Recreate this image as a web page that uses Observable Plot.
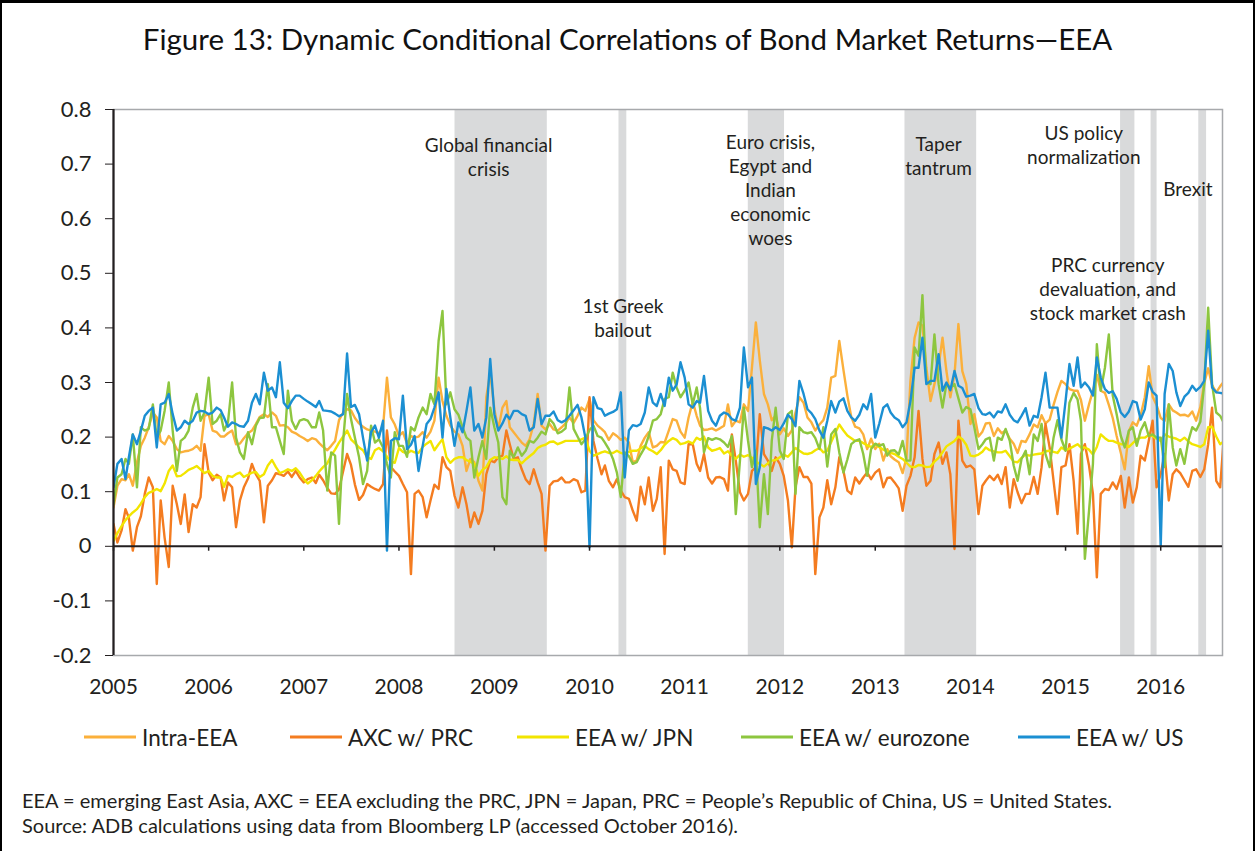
<!DOCTYPE html>
<html>
<head>
<meta charset="utf-8">
<script src="https://cdn.jsdelivr.net/npm/d3@7"></script>
<script src="https://cdn.jsdelivr.net/npm/@observablehq/plot@0.6"></script>
<style>
  body { margin: 0; background: #fff; font-family: Lato, "Open Sans", sans-serif; color: #231f20; }
  #page { position: relative; width: 1255px; height: 851px; overflow: hidden; }
  #title { height: 80px; line-height: 78px; text-align: center; font-size: 29.5px; color: #111; }
  #legend { position: relative; height: 54px; font-size: 22.5px; }
  .item { position: absolute; top: 27px; transform: translateY(-50%); display: flex; align-items: center; white-space: nowrap; }
  .sw { width: 52px; height: 3px; margin-right: 6px; }
  #notes { padding: 24px 0 0 22px; font-size: 20px; line-height: 25px; }
  .bd { position: absolute; background: #000; }
</style>
</head>
<body>
<div id="page">
  <div id="title">Figure 13: Dynamic Conditional Correlations of Bond Market Returns—EEA</div>
  <div id="chart"></div>
  <div id="legend"></div>
  <div id="notes">EEA = emerging East Asia, AXC = EEA excluding the PRC, JPN = Japan, PRC = People’s Republic of China, US = United States.<br>Source: ADB calculations using data from Bloomberg LP (accessed October 2016).</div>
  <div class="bd" style="left:0;top:0;width:1255px;height:3px"></div>
  <div class="bd" style="left:0;top:0;width:2px;height:851px"></div>
  <div class="bd" style="right:0;top:0;width:2px;height:851px"></div>
</div>
<script>
// Semi-monthly observations (1st and 16th of each month), Jan 2005 – Sep 2016
const seriesNames = ["Intra-EEA", "AXC w/ PRC", "EEA w/ JPN", "EEA w/ eurozone", "EEA w/ US"];
const seriesColors = ["#FBB03B", "#F47C20", "#F2E500", "#8DC63F", "#1B8FD2"];

const intraEEA = [
0.071,0.111,0.123,0.121,0.132,0.111,0.154,0.184,0.199,0.218,0.245,0.236,0.193,0.187,0.202,0.193,0.178,0.172,0.174,0.175,0.178,0.184,0.175,0.239,
0.242,0.212,0.209,0.201,0.201,0.207,0.212,0.187,0.188,0.198,0.207,0.212,0.224,0.237,0.242,0.237,0.245,0.239,0.221,0.222,0.218,0.210,0.207,0.202,
0.198,0.193,0.198,0.196,0.189,0.182,0.176,0.184,0.193,0.231,0.245,0.251,0.249,0.235,0.225,0.219,0.214,0.212,0.210,0.207,0.218,0.309,0.236,0.223,
0.202,0.209,0.188,0.202,0.199,0.201,0.209,0.199,0.210,0.230,0.309,0.266,0.239,0.221,0.210,0.205,0.184,0.138,0.160,0.154,0.120,0.102,0.273,0.318,
0.251,0.215,0.254,0.266,0.218,0.209,0.199,0.190,0.184,0.196,0.224,0.279,0.221,0.214,0.224,0.214,0.212,0.218,0.225,0.236,0.226,0.239,0.254,0.248,
0.270,0.231,0.221,0.215,0.209,0.195,0.207,0.202,0.195,0.199,0.190,0.154,0.157,0.184,0.199,0.209,0.181,0.184,0.191,0.190,0.212,0.233,0.230,0.210,
0.199,0.236,0.265,0.239,0.221,0.213,0.214,0.216,0.212,0.216,0.221,0.260,0.220,0.230,0.227,0.260,0.248,0.327,0.410,0.341,0.279,0.260,0.231,0.239,
0.205,0.216,0.202,0.212,0.245,0.273,0.263,0.236,0.227,0.212,0.223,0.231,0.254,0.309,0.312,0.376,0.323,0.276,0.237,0.219,0.216,0.205,0.178,0.197,
0.178,0.188,0.157,0.178,0.165,0.159,0.154,0.134,0.163,0.303,0.382,0.410,0.404,0.327,0.266,0.297,0.330,0.382,0.321,0.273,0.315,0.407,0.321,0.297,
0.224,0.242,0.201,0.210,0.225,0.226,0.202,0.216,0.207,0.212,0.197,0.188,0.171,0.193,0.191,0.205,0.223,0.218,0.240,0.225,0.232,0.259,0.283,0.303,
0.297,0.288,0.285,0.285,0.268,0.230,0.260,0.285,0.314,0.285,0.281,0.259,0.235,0.202,0.171,0.141,0.211,0.227,0.221,0.240,0.273,0.330,0.274,0.259,
0.235,0.230,0.260,0.249,0.245,0.240,0.241,0.238,0.247,0.230,0.255,0.299,0.326,0.295,0.282,0.293,0.303];

const axcPRC = [
0.041,0.007,0.029,0.068,0.052,-0.008,0.035,0.055,0.096,0.126,0.108,-0.069,0.084,0.016,-0.038,0.111,0.077,0.041,0.095,0.026,0.077,0.071,0.090,0.187,
0.135,0.121,0.131,0.126,0.084,0.117,0.108,0.035,0.084,0.108,0.124,0.151,0.132,0.120,0.044,0.111,0.121,0.134,0.132,0.129,0.137,0.127,0.138,0.126,
0.117,0.123,0.126,0.116,0.131,0.121,0.107,0.097,0.096,0.104,0.138,0.169,0.149,0.113,0.085,0.094,0.114,0.109,0.105,0.102,0.114,0.212,0.145,0.137,
0.129,0.114,0.099,-0.051,0.096,0.102,0.090,0.053,0.084,0.113,0.105,0.163,0.145,0.138,0.093,0.071,0.108,0.077,0.035,0.062,0.041,0.065,0.132,0.157,
0.154,0.163,0.166,0.212,0.187,0.160,0.163,0.141,0.123,0.114,0.141,0.117,0.096,-0.008,0.111,0.119,0.120,0.126,0.117,0.117,0.123,0.120,0.099,0.102,
0.273,0.193,0.160,0.132,0.148,0.120,0.108,0.123,0.102,0.090,0.087,0.065,0.047,0.109,0.077,0.126,0.065,0.087,0.145,-0.014,0.157,0.141,0.138,0.117,
0.114,0.187,0.187,0.151,0.138,0.169,0.126,0.115,0.126,0.127,0.123,0.102,0.205,0.157,0.099,0.084,0.096,0.138,0.145,0.242,0.169,0.157,0.138,0.163,
0.151,0.129,0.084,-0.002,0.108,0.145,0.127,0.127,0.115,-0.051,0.053,0.071,0.121,0.077,0.108,0.163,0.138,0.102,0.096,0.126,0.115,0.126,0.135,0.123,
0.135,0.141,0.108,0.125,0.126,0.117,0.106,0.065,0.111,0.129,0.163,0.248,0.160,0.111,0.120,0.169,0.190,0.151,0.172,0.132,-0.005,0.230,0.157,0.145,
0.148,0.141,0.059,0.111,0.120,0.129,0.121,0.131,0.114,0.145,0.071,0.123,0.099,0.079,0.096,0.096,0.127,0.096,0.145,0.224,0.181,0.120,0.059,0.145,
0.148,0.187,0.120,0.023,0.169,0.187,0.148,0.096,-0.057,0.096,0.105,0.103,0.117,0.105,0.129,0.071,0.126,0.080,0.108,0.166,0.157,0.193,0.230,0.108,
0.132,0.169,0.084,0.132,0.141,0.134,0.121,0.109,0.138,0.141,0.127,0.141,0.187,0.254,0.120,0.108,0.212];

const eeaJPN = [
0.010,0.024,0.037,0.048,0.055,0.062,0.068,0.078,0.090,0.098,0.101,0.105,0.101,0.115,0.138,0.148,0.128,0.129,0.134,0.140,0.143,0.147,0.141,0.134,
0.138,0.129,0.126,0.126,0.109,0.129,0.127,0.132,0.135,0.127,0.131,0.135,0.136,0.127,0.132,0.148,0.158,0.145,0.134,0.137,0.141,0.138,0.143,0.135,
0.123,0.115,0.121,0.129,0.137,0.145,0.152,0.166,0.177,0.190,0.201,0.212,0.196,0.189,0.181,0.176,0.163,0.160,0.176,0.180,0.174,0.164,0.155,0.153,
0.180,0.173,0.170,0.175,0.172,0.171,0.182,0.188,0.193,0.176,0.187,0.196,0.163,0.153,0.160,0.163,0.163,0.158,0.155,0.151,0.129,0.140,0.145,0.158,
0.163,0.162,0.160,0.165,0.159,0.158,0.158,0.152,0.159,0.165,0.171,0.180,0.184,0.186,0.191,0.192,0.187,0.190,0.193,0.193,0.193,0.193,0.196,0.199,
0.175,0.166,0.169,0.172,0.174,0.171,0.171,0.175,0.171,0.169,0.173,0.175,0.175,0.179,0.184,0.178,0.174,0.169,0.176,0.186,0.193,0.198,0.195,0.187,
0.189,0.192,0.188,0.199,0.195,0.201,0.181,0.175,0.177,0.180,0.170,0.174,0.166,0.160,0.168,0.164,0.167,0.162,0.155,0.151,0.146,0.152,0.157,0.158,
0.163,0.168,0.164,0.172,0.180,0.175,0.170,0.169,0.171,0.176,0.180,0.172,0.175,0.191,0.208,0.223,0.212,0.203,0.198,0.193,0.193,0.189,0.185,0.182,
0.187,0.182,0.177,0.174,0.171,0.169,0.164,0.160,0.153,0.146,0.145,0.149,0.148,0.145,0.146,0.155,0.162,0.172,0.183,0.188,0.193,0.201,0.196,0.186,
0.166,0.165,0.168,0.173,0.181,0.176,0.174,0.172,0.172,0.175,0.165,0.155,0.154,0.162,0.168,0.166,0.168,0.169,0.170,0.174,0.175,0.173,0.171,0.181,
0.176,0.179,0.183,0.187,0.181,0.181,0.177,0.168,0.182,0.205,0.198,0.193,0.193,0.190,0.187,0.187,0.182,0.189,0.196,0.199,0.199,0.204,0.202,0.197,
0.193,0.205,0.201,0.199,0.197,0.193,0.199,0.192,0.187,0.185,0.182,0.187,0.218,0.219,0.201,0.187,0.193];

const eeaEurozone = [
0.077,0.126,0.132,0.160,0.151,0.205,0.108,0.218,0.212,0.215,0.260,0.199,0.212,0.248,0.300,0.212,0.138,0.193,0.199,0.212,0.254,0.279,0.230,0.245,
0.309,0.224,0.230,0.242,0.212,0.227,0.300,0.199,0.172,0.160,0.209,0.187,0.221,0.235,0.236,0.297,0.218,0.218,0.193,0.169,0.285,0.230,0.215,0.230,
0.233,0.230,0.218,0.218,0.245,0.212,0.102,0.172,0.166,0.041,0.193,0.279,0.233,0.199,0.163,0.114,0.138,0.221,0.190,0.196,0.181,0.151,0.126,0.209,
0.184,0.184,0.164,0.218,0.212,0.236,0.254,0.242,0.279,0.260,0.376,0.431,0.260,0.282,0.251,0.241,0.218,0.199,0.193,0.126,0.163,0.193,0.160,0.254,
0.218,0.190,0.090,0.077,0.175,0.163,0.181,0.166,0.175,0.193,0.190,0.199,0.210,0.205,0.233,0.225,0.207,0.210,0.216,0.291,0.215,0.201,0.187,0.196,
0.213,0.221,0.202,0.199,0.190,0.178,0.160,0.135,0.090,0.172,0.165,0.151,0.154,0.168,0.181,0.202,0.230,0.233,0.242,0.270,0.273,0.318,0.291,0.273,
0.285,0.300,0.260,0.291,0.253,0.172,0.198,0.195,0.198,0.196,0.190,0.182,0.202,0.059,0.157,0.254,0.193,0.145,0.175,0.035,0.132,0.059,0.193,0.254,
0.175,0.160,0.242,0.248,0.096,0.218,0.209,0.207,0.209,0.198,0.178,0.218,0.146,0.205,0.215,0.172,0.135,0.159,0.187,0.193,0.196,0.169,0.129,0.178,
0.188,0.184,0.187,0.166,0.175,0.176,0.168,0.193,0.157,0.157,0.364,0.349,0.460,0.300,0.297,0.388,0.297,0.254,0.297,0.290,0.297,0.271,0.245,0.255,
0.251,0.218,0.178,0.187,0.196,0.199,0.157,0.199,0.195,0.215,0.193,0.148,0.120,0.160,0.175,0.132,0.205,0.193,0.224,0.169,0.145,0.199,0.231,0.196,
0.175,0.263,0.281,0.269,0.230,-0.023,0.065,0.151,0.370,0.285,0.327,0.388,0.276,0.242,0.202,0.181,0.212,0.218,0.184,0.212,0.227,0.202,0.205,0.199,
0.199,0.145,0.260,0.181,0.148,0.178,0.151,0.193,0.218,0.212,0.228,0.297,0.437,0.297,0.245,0.239,0.224];

const eeaUS = [
0.108,0.151,0.160,0.123,0.163,0.205,0.187,0.212,0.239,0.248,0.254,0.181,0.260,0.263,0.279,0.242,0.212,0.218,0.230,0.224,0.230,0.245,0.248,0.247,
0.242,0.245,0.254,0.249,0.236,0.219,0.227,0.224,0.220,0.219,0.230,0.263,0.279,0.260,0.318,0.285,0.291,0.273,0.337,0.263,0.253,0.266,0.276,0.276,
0.270,0.265,0.260,0.255,0.266,0.249,0.248,0.247,0.243,0.238,0.242,0.353,0.255,0.259,0.242,0.199,0.157,0.209,0.221,0.199,0.230,-0.008,0.193,0.198,
0.196,0.276,0.178,0.186,0.202,0.138,0.184,0.224,0.233,0.254,0.282,0.199,0.288,0.236,0.184,0.227,0.209,0.248,0.291,0.212,0.224,0.199,0.236,0.343,
0.242,0.212,0.225,0.241,0.233,0.248,0.248,0.242,0.239,0.212,0.218,0.270,0.224,0.239,0.239,0.247,0.231,0.227,0.231,0.239,0.249,0.259,0.236,0.199,
-0.002,0.273,0.253,0.251,0.239,0.243,0.246,0.251,0.282,0.126,0.212,0.222,0.220,0.224,0.245,0.291,0.263,0.257,0.279,0.257,0.309,0.285,0.296,0.337,
0.309,0.260,0.254,0.266,0.263,0.312,0.248,0.230,0.221,0.239,0.245,0.242,0.233,0.230,0.254,0.364,0.291,0.309,0.114,0.145,0.218,0.216,0.212,0.218,
0.213,0.225,0.241,0.233,0.220,0.303,0.279,0.251,0.244,0.233,0.212,0.199,0.230,0.266,0.245,0.265,0.271,0.248,0.236,0.230,0.241,0.260,0.251,0.279,
0.199,0.224,0.254,0.260,0.245,0.236,0.231,0.218,0.227,0.266,0.327,0.327,0.382,0.297,0.303,0.303,0.352,0.285,0.300,0.286,0.321,0.294,0.290,0.274,
0.276,0.279,0.253,0.242,0.241,0.245,0.236,0.247,0.245,0.260,0.241,0.231,0.227,0.239,0.253,0.221,0.239,0.236,0.273,0.318,0.254,0.254,0.254,0.199,
0.266,0.334,0.294,0.346,0.291,0.300,0.291,0.276,0.346,0.309,0.288,0.281,0.284,0.270,0.245,0.237,0.247,0.266,0.263,0.232,0.251,0.300,0.283,0.276,
0.000,0.279,0.334,0.321,0.282,0.257,0.274,0.281,0.294,0.285,0.292,0.303,0.395,0.291,0.282,0.281,0.279];

// Shaded event periods
const periodStart = ["2008-08-03", "2010-04-24", "2011-09-02", "2013-04-25", "2015-07-31", "2015-11-25", "2016-05-26"];
const periodEnd   = ["2009-07-23", "2010-05-24", "2012-01-19", "2014-01-25", "2015-09-24", "2015-12-18", "2016-06-25"];

// Event labels (anchored at the centre of each text block)
const labelTexts  = ["Global financial\ncrisis", "1st Greek\nbailout", "Euro crisis,\nEgypt and\nIndian\neconomic\nwoes", "Taper\ntantrum", "US policy\nnormalization", "Brexit", "PRC currency\ndevaluation, and\nstock market crash"];
const labelDates  = ["2008-12-10", "2010-05-09", "2011-11-26", "2013-09-01", "2015-03-12", "2016-04-14", "2015-06-12"];
const labelValues = [0.715, 0.419, 0.654, 0.716, 0.737, 0.655, 0.472];

const yearTicks = d3.range(2005, 2017);
const yTicks = [-0.2, -0.1, 0, 0.1, 0.2, 0.3, 0.4, 0.5, 0.6, 0.7, 0.8];

// ---- build tables ----
const obsDate = i => new Date(Date.UTC(2005 + Math.floor(i / 24), Math.floor((i % 24) / 2), i % 2 ? 16 : 1));
const allSeries = [intraEEA, axcPRC, eeaJPN, eeaEurozone, eeaUS];
const tables = allSeries.map((vals, s) => vals.map((v, i) => ({date: obsDate(i), value: v, series: seriesNames[s]})));
const periods = periodStart.map((s, i) => ({start: new Date(s), end: new Date(periodEnd[i])}));
const labels = labelTexts.map((t, i) => ({text: t, date: new Date(labelDates[i]), value: labelValues[i]}));
const yearDates = yearTicks.map(y => new Date(Date.UTC(y, 0, 1)));
const xStart = new Date(Date.UTC(2005, 0, 1));
const xEnd = new Date(Date.UTC(2016, 7, 25));

const plot = Plot.plot({
  width: 1255,
  height: 630,
  marginTop: 29,
  marginBottom: 55,
  marginLeft: 113,
  marginRight: 33,
  style: {fontFamily: "Lato, 'Open Sans', sans-serif", fontSize: "19px", color: "#231f20", background: "#fff"},
  x: {type: "utc", domain: [xStart, xEnd]},
  y: {domain: [-0.2, 0.8]},
  marks: [
    Plot.rect(periods, {x1: "start", x2: "end", y1: -0.2, y2: 0.8, fill: "#d9dadb"}),
    Plot.frame({stroke: "#a7a9ac", strokeWidth: 1.5}),
    Plot.text(labels, {x: "date", y: "value", text: "text", fontSize: 19, lineHeight: 1.27, lineAnchor: "middle", fill: "#231f20"}),
    ...tables.map((t, s) => Plot.line(t, {x: "date", y: "value", stroke: seriesColors[s], strokeWidth: 2.4, clip: true})),
    Plot.ruleY([0], {stroke: "#231f20", strokeWidth: 2}),
    Plot.ruleX(yearDates, {y1: 0, y2: -0.009, stroke: "#231f20", strokeWidth: 1.5}),
    Plot.ruleX([xStart], {stroke: "#231f20", strokeWidth: 2.2}),
    Plot.axisY({ticks: yTicks, tickSize: 8, tickPadding: 14, fontSize: 22, label: null, tickFormat: d => d === 0 ? "0" : d.toFixed(1), stroke: "#231f20"}),
    Plot.axisX({ticks: yearDates, tickSize: 0, tickPadding: 24, fontSize: 21, label: null, tickFormat: d => String(d.getUTCFullYear())})
  ]
});
document.getElementById("chart").appendChild(plot);

// ---- legend ----
const legendLeft = [84, 290, 517, 741, 1018];
const legend = document.getElementById("legend");
seriesNames.forEach((name, i) => {
  const item = document.createElement("div");
  item.className = "item";
  item.style.left = legendLeft[i] + "px";
  item.innerHTML = `<span class="sw" style="background:${seriesColors[i]}"></span><span>${name}</span>`;
  legend.appendChild(item);
});
</script>
</body>
</html>
